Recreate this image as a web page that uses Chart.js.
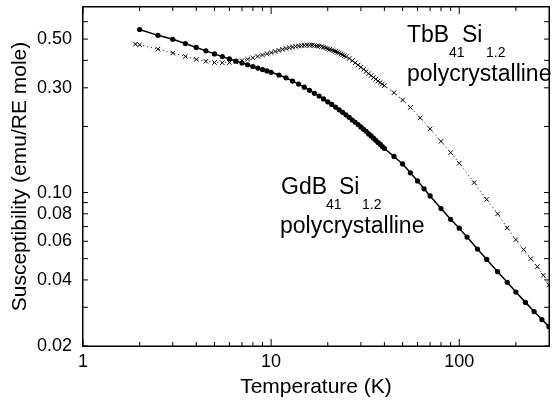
<!DOCTYPE html>
<html>
<head>
<meta charset="utf-8">
<script src="https://cdn.jsdelivr.net/npm/chart.js@4.4.1/dist/chart.umd.min.js"></script>
<style>
html,body{margin:0;padding:0;background:#fff;}
#wrap{width:556px;height:402px;}
</style>
</head>
<body>
<div id="wrap"><canvas id="c" width="556" height="402"></canvas></div>
<script>
// GdB41Si1.2 polycrystalline (filled circles, solid line)
const gdT = [2,2.5,3,3.5,4,4.5,5,5.5,6,6.5,7,7.5,8,8.5,9,9.5,10,11,12,13,14,15,16,17,18,19,20,21,22,23,24,25,26,27,28,29,30,31,32,33,34,35,36,37,38,39,40,45,50,55,60,65,70,80,90,100,110,125,140,160,180,200,225,250,275,300];
const gdChi = [0.553,0.520,0.499,0.477,0.458,0.442,0.428,0.416,0.406,0.397,0.389,0.382,0.375,0.369,0.363,0.358,0.353,0.343,0.333,0.322,0.312,0.302,0.292,0.283,0.275,0.267,0.259,0.252,0.245,0.238,0.232,0.226,0.220,0.214,0.209,0.204,0.199,0.194,0.190,0.185,0.181,0.177,0.173,0.169,0.166,0.162,0.159,0.146,0.135,0.123,0.113,0.104,0.0965,0.0845,0.0755,0.0688,0.0627,0.0553,0.0496,0.0436,0.0390,0.0352,0.0316,0.0287,0.0264,0.0245];

// TbB41Si1.2 polycrystalline (crosses, dotted line)
const tbT = [1.9,2,2.5,3,3.5,4,4.5,5,5.5,6,6.5,7,7.5,8,8.5,9,9.5,10,10.5,11,11.5,12,12.5,13,13.5,14,14.5,15,15.5,16,16.5,17,17.5,18,18.5,19,19.5,20,20.5,21,21.5,22,22.5,23,23.5,24,24.5,25,26,27,28,29,30,31,32,33,34,35,36,37,38,39,40,45,50,55,62,70,80,90,100,120,140,160,180,200,220,240,260,280,300];
const tbChi = [0.474,0.471,0.450,0.432,0.417,0.404,0.396,0.391,0.390,0.391,0.394,0.399,0.405,0.411,0.417,0.423,0.429,0.434,0.439,0.444,0.449,0.453,0.457,0.460,0.463,0.465,0.467,0.468,0.469,0.469,0.469,0.468,0.466,0.464,0.462,0.459,0.456,0.452,0.449,0.446,0.442,0.439,0.435,0.432,0.428,0.424,0.420,0.416,0.408,0.399,0.390,0.381,0.372,0.364,0.356,0.348,0.341,0.334,0.328,0.322,0.317,0.312,0.307,0.285,0.264,0.244,0.219,0.195,0.171,0.152,0.136,0.111,0.093,0.080,0.069,0.061,0.055,0.050,0.046,0.042,0.038];

// axis ticks
const xTickValues = [1, 10, 100];
const xTickLabels = ['1', '10', '100'];
const yTickValues = [0.02, 0.04, 0.06, 0.08, 0.10, 0.30, 0.50];
const yTickLabels = ['0.02', '0.04', '0.06', '0.08', '0.10', '0.30', '0.50'];
const xMinorTicks = [2,3,4,5,6,7,8,9,20,30,40,50,60,70,80,90,200];
const yMinorTicks = [0.03,0.05,0.07,0.09,0.2,0.4,0.6];

const FONT = "'Liberation Sans', Arial, Helvetica, sans-serif";

const framePlugin = {
  id: 'frame',
  afterDraw(chart) {
    const ctx = chart.ctx;
    const a = chart.chartArea;
    const xs = chart.scales.x, ys = chart.scales.y;
    ctx.save();
    ctx.fillStyle = '#000';
    const L = Math.round(a.left), R = Math.round(a.right), T = Math.round(a.top), B = Math.round(a.bottom);
    // frame
    ctx.fillRect(L - 1, T - 1, R - L + 2, 1.5);
    ctx.fillRect(L - 1, B - 0.5, R - L + 2, 1.5);
    ctx.fillRect(L - 1, T - 1, 1.5, B - T + 2);
    ctx.fillRect(R - 0.5, T - 1, 1.5, B - T + 2);
    // inward ticks
    xTickValues.concat(xMinorTicks).forEach(v => {
      const px = xs.getPixelForValue(v);
      const len = xTickValues.includes(v) ? 7 : 4;
      ctx.fillRect(px - 0.5, B - len, 1, len);
      ctx.fillRect(px - 0.5, T, 1, len);
    });
    yTickValues.concat(yMinorTicks).forEach(v => {
      const py = ys.getPixelForValue(v);
      ctx.fillRect(L, py - 0.5, 5, 1);
      ctx.fillRect(R - 5, py - 0.5, 5, 1);
    });
    // annotations
    ctx.textBaseline = 'alphabetic';
    ctx.textAlign = 'left';
    const big = '23px ' + FONT, small = '14px ' + FONT;
    ctx.font = big; ctx.fillText('TbB', 407, 42);
    ctx.font = small; ctx.fillText('41', 449, 57);
    ctx.font = big; ctx.fillText('Si', 462, 42);
    ctx.font = small; ctx.fillText('1.2', 486, 57);
    ctx.font = big; ctx.fillText('polycrystalline', 407, 81);
    ctx.font = big; ctx.fillText('GdB', 281, 194);
    ctx.font = small; ctx.fillText('41', 326, 209);
    ctx.font = big; ctx.fillText('Si', 339, 194);
    ctx.font = small; ctx.fillText('1.2', 362, 209);
    ctx.font = big; ctx.fillText('polycrystalline', 280, 233);
    ctx.restore();
  }
};

new Chart(document.getElementById('c'), {
  type: 'line',
  data: {
    datasets: [
      {
        label: 'GdB41Si1.2',
        data: gdT.map((t, i) => ({x: t, y: gdChi[i]})),
        borderColor: '#000',
        backgroundColor: '#000',
        borderWidth: 1.5,
        pointStyle: 'circle',
        pointRadius: 2.6,
        pointBorderWidth: 0,
        pointBackgroundColor: '#000',
        tension: 0
      },
      {
        label: 'TbB41Si1.2',
        data: tbT.map((t, i) => ({x: t, y: tbChi[i]})),
        borderColor: '#000',
        backgroundColor: '#000',
        borderWidth: 1,
        borderDash: [1, 3],
        pointStyle: 'crossRot',
        pointRadius: 3.2,
        pointBorderWidth: 1,
        pointBorderColor: '#000',
        tension: 0
      }
    ]
  },
  options: {
    responsive: false,
    animation: false,
    devicePixelRatio: 1,
    layout: {padding: {left: 0, right: 7, top: 7, bottom: 2}},
    plugins: {legend: {display: false}, tooltip: {enabled: false}},
    scales: {
      x: {
        type: 'logarithmic',
        min: 1, max: 300,
        grid: {display: false, drawTicks: false},
        border: {display: false},
        afterBuildTicks(s) { s.ticks = xTickValues.map(v => ({value: v})); },
        afterFit(s) { s.height = 54; s.paddingLeft = 0; s.paddingRight = 0; },
        ticks: {
          autoSkip: false, maxRotation: 0, padding: 5,
          color: '#000', font: {family: FONT, size: 18},
          callback: (v, i) => xTickLabels[i]
        },
        title: {display: true, text: 'Temperature (K)', color: '#000', font: {family: FONT, size: 21}, padding: {top: 0, bottom: 0}}
      },
      y: {
        type: 'logarithmic',
        min: 0.02, max: 0.7,
        grid: {display: false, drawTicks: false},
        border: {display: false},
        afterBuildTicks(s) { s.ticks = yTickValues.map(v => ({value: v})); },
        afterFit(s) { s.width = 83; s.paddingTop = 0; s.paddingBottom = 0; },
        ticks: {
          autoSkip: false, padding: 11,
          color: '#000', font: {family: FONT, size: 18},
          callback: (v, i) => yTickLabels[i]
        },
        title: {display: true, text: 'Susceptibility (emu/RE mole)', color: '#000', font: {family: FONT, size: 21}, padding: {top: 8, bottom: 0}}
      }
    }
  },
  plugins: [framePlugin]
});
</script>
</body>
</html>
